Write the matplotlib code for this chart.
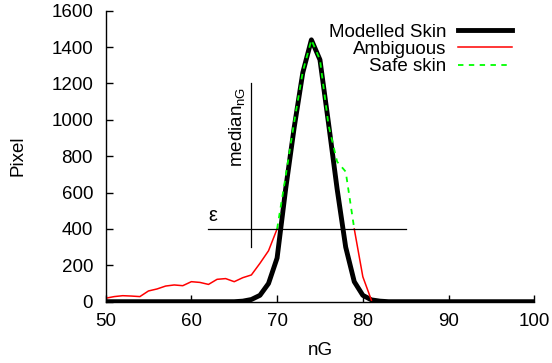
import numpy as np
import matplotlib
matplotlib.use('Agg')
import matplotlib.pyplot as plt

plt.rcParams['font.family'] = ['Liberation Sans', 'DejaVu Sans']

# histogram bins (nG)
ng = np.arange(50, 101)
nan = np.nan

modelled = [0, 0, 0, 0, 0, 0, 0, 0, 0, 0,
            0, 0, 0, 0, 0, 0, 3, 12, 35, 100,
            240, 620, 960, 1260, 1440, 1330, 980, 620, 300, 110,
            35, 10, 3, 0, 0, 0, 0, 0, 0, 0,
            0, 0, 0, 0, 0, 0, 0, 0, 0, 0, 0]
ambiguous = [19, 28, 33, 31, 28, 59, 70, 86, 92, 88,
             110, 106, 95, 123, 127, 110, 132, 147, 211, 280,
             400, nan, nan, nan, nan, nan, nan, nan, nan, 400,
             137, 8, nan, nan, nan, nan, nan, nan, nan, nan,
             nan, nan, nan, nan, nan, nan, nan, nan, nan, nan, nan]
safe = [nan] * 20 + [400, 690, 990, 1265, 1440, 1330, 970, 770, 715, 400] + [nan] * 21

median_ng = 67
eps = 400
fs = 13.5

fig = plt.figure(figsize=(5.52, 3.63), dpi=100)
ax = fig.add_axes([0.1913, 0.1689, 0.968 - 0.1913, 0.9705 - 0.1689])

ax.plot(ng, modelled, color='black', lw=3.5, label='Modelled Skin')
ax.plot(ng, ambiguous, color='#ff0000', lw=1.1, label='Ambiguous')
ax.plot(ng, safe, color='#00ff00', lw=1.3, ls=(0, (3, 3)), label='Safe skin')

# threshold / median markers
ax.plot([median_ng, median_ng], [300, 1200], color='black', lw=0.9)
ax.plot([62, 85], [eps, eps], color='black', lw=0.9)
ax.text(62.0, 420, 'ε', fontsize=fs + 1, ha='left', va='bottom')
ax.text(66.6, 740, 'median$_{\\mathregular{nG}}$', fontsize=fs, rotation=90,
        ha='right', va='bottom')

ax.set_xlim(50, 100)
ax.set_ylim(0, 1600)
ax.set_xticks([50, 60, 70, 80, 90, 100])
ax.set_yticks(range(0, 1601, 200))
ax.spines['top'].set_visible(False)
ax.spines['right'].set_visible(False)
ax.spines['left'].set_linewidth(1.0)
ax.spines['bottom'].set_linewidth(1.0)
ax.tick_params(direction='in', length=5, width=1.0, labelsize=fs)
ax.tick_params(axis='y', pad=9)
ax.tick_params(axis='x', pad=8.5)
ax.set_xlabel('nG', fontsize=fs, labelpad=8)
ax.set_ylabel('Pixel', fontsize=fs, labelpad=18)

ax.legend(loc='upper right', bbox_to_anchor=(0.948, 0.955), frameon=False,
          markerfirst=False, fontsize=fs, handlelength=2.9, handletextpad=0.6,
          labelspacing=0.0, borderpad=0, borderaxespad=0)

fig.savefig('out.png', dpi=100)
